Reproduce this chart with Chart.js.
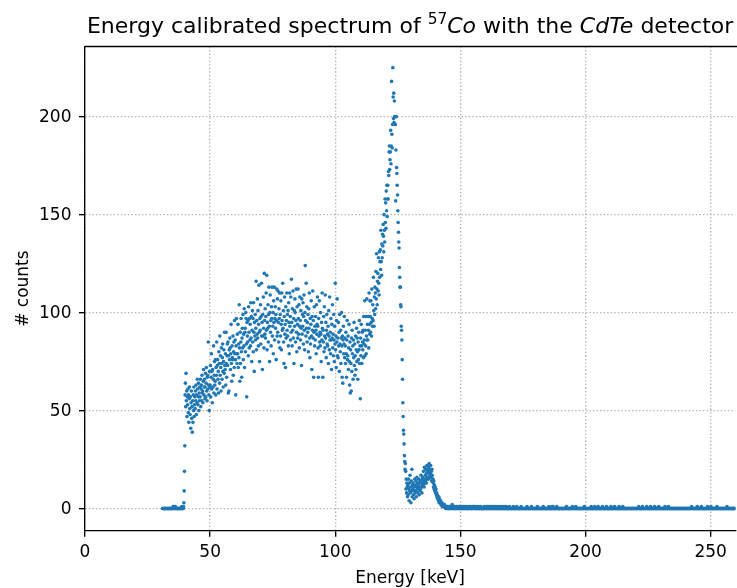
<!DOCTYPE html>
<html>
<head>
<meta charset="utf-8">
<script src="https://cdn.jsdelivr.net/npm/chart.js@4.4.1/dist/chart.umd.min.js"></script>
<style>
html,body{margin:0;padding:0;background:#fff;}
canvas{display:block;}
</style>
</head>
<body>
<canvas id="c" width="737" height="588"></canvas>
<script>
// Energy calibration of the channel axis (keV)
const ENERGY_START_KEV = 31;
const ENERGY_STEP_KEV = 0.125;

// Counts per channel (one row = 1 keV = 8 channels)
const counts = [
// 31 - 39 keV
0,0,0,0,0,0,0,0, 0,0,0,0,0,0,0,0, 0,0,0,0,0,0,0,0, 0,0,0,0,0,0,0,0,
0,0,1,0,1,0,0,0, 0,1,0,0,0,0,0,0, 0,0,0,0,0,0,0,0, 0,0,0,0,0,1,0,0,
0,0,0,1,3,9,19,32,
// 40 - 49 keV
58,64,52,69,55,60,47,57, 53,61,49,58,44,56,62,51, 48,57,41,54,60,46,52,39,
55,44,58,50,62,47,53,57, 51,60,55,63,48,58,54,66, 61,53,57,64,50,59,55,62,
57,66,52,61,63,55,68,59, 60,54,65,71,58,62,66,56, 62,69,57,64,72,60,55,67,
68,61,85,63,58,50,70,62,
// 50 - 59 keV
63,73,57,67,79,61,70,54, 71,62,66,83,59,68,75,63, 65,76,58,72,68,85,61,73,
76,66,70,59,80,74,64,88, 68,78,72,60,82,74,66,77, 84,70,62,75,81,69,90,73,
71,79,63,90,74,67,78,84, 73,85,59,78,60,81,76,87, 82,71,79,94,74,65,83,77,
76,88,68,80,85,72,96,79,
// 60 - 69 keV
86,76,58,83,97,79,74,89, 79,94,72,84,77,104,82,65, 90,74,85,97,80,67,87,92,
82,99,76,89,83,102,72,90, 92,80,100,97,84,57,95,88, 85,96,78,103,90,82,97,86,
94,83,105,87,98,75,91,101, 85,97,80,105,90,70,95,88, 99,86,92,116,81,96,89,107,
87,101,83,94,114,90,75,97,
// 70 - 79 keV
91,104,84,98,115,88,95,71, 99,88,108,92,82,120,96,89, 102,87,98,110,91,119,81,95,
92,104,85,99,113,93,75,100, 109,90,96,83,103,97,113,88, 93,100,79,106,95,113,86,97,
103,92,99,76,96,112,88,107, 90,111,95,85,102,97,110,82, 99,88,106,94,81,110,96,91,
115,92,101,85,74,98,108,89,
// 80 - 89 keV
94,72,103,87,96,110,91,99, 88,101,83,105,95,79,110,93, 98,86,108,90,117,95,83,102,
91,111,87,97,74,101,93,107, 100,85,96,112,90,80,103,94, 87,112,97,89,104,82,93,108,
96,86,101,92,73,107,89,99, 93,105,84,98,109,91,81,100, 124,96,88,115,92,103,85,95,
90,99,80,102,92,110,87,77,
// 90 - 99 keV
97,84,94,106,88,71,98,91, 111,87,96,67,90,103,83,93, 86,98,91,79,104,89,94,108,
93,82,67,97,88,106,85,90, 83,100,89,75,95,86,110,92, 67,91,85,98,80,103,88,82,
109,87,95,77,91,99,84,89, 83,93,74,101,88,81,108,86, 90,79,97,86,71,94,87,104,
82,89,78,99,86,75,93,84,
// 100 - 109 keV
115,81,88,72,96,85,107,78, 87,77,95,83,90,70,99,84, 80,91,74,87,100,83,67,88,
64,86,93,79,84,98,77,87, 83,74,90,79,67,86,96,76, 78,88,71,82,94,75,63,85,
59,81,74,60,87,70,91,79, 83,66,86,77,95,73,84,68, 78,88,71,81,92,75,87,80,
66,85,76,90,81,96,74,83,
// 110 - 119 keV
56,87,78,94,83,74,90,85, 81,91,77,98,84,86,106,78, 91,83,98,79,88,107,86,94,
86,98,91,82,110,94,89,106, 98,90,106,95,88,112,97,93, 104,96,118,101,93,108,99,113,
110,102,121,107,130,112,104,116, 120,111,128,115,109,131,118,126, 132,122,142,126,119,135,128,140,
134,145,139,131,150,142,136,158,
// 120 - 129 keV
146,156,143,162,152,165,149,158, 165,158,172,170,182,185,173,178, 182,193,176,185,218,191,184,196,
225,210,199,212,197,208,200,196, 196,157,183,200,174,171,165,160, 152,146,141,136,133,123,118,113,
113,104,103,93,91,86,76,66, 54,47,40,38,33,27,24,20, 23,19,10,15,8,13,11,6,
12,7,15,10,4,13,9,17,
// 130 - 139 keV
8,11,3,14,9,20,6,12, 10,13,7,11,5,9,15,8, 12,9,14,6,11,16,10,13,
8,12,10,15,7,13,11,9, 14,10,17,11,13,8,15,12, 16,12,19,14,11,21,13,15,
17,14,20,13,18,22,16,19, 19,15,21,18,23,16,20,17, 18,22,16,19,14,20,17,15,
15,13,11,14,10,12,9,11,
// 140 - 149 keV
9,8,10,7,8,6,7,5, 6,5,4,6,3,5,4,3, 3,4,2,3,2,3,1,2,
2,1,2,1,1,2,1,1, 1,0,1,1,0,1,0,1, 0,1,0,0,1,0,0,1,
0,1,0,0,1,0,2,0, 1,0,0,1,0,0,1,0, 0,0,1,0,1,0,0,0,
1,0,0,0,1,0,1,0,
// 150 - 159 keV
0,1,0,0,0,1,0,0, 0,0,1,0,0,0,1,0, 1,0,0,0,1,0,0,0, 0,0,0,1,0,0,1,0,
0,1,0,0,0,0,0,1, 0,0,1,0,0,1,0,0, 1,0,0,0,0,0,1,0, 0,0,0,1,0,0,0,0,
0,1,0,0,0,0,0,0, 0,0,0,0,1,0,0,0,
// 160 - 169 keV
0,0,1,0,0,0,0,1, 0,0,0,0,1,0,0,0, 1,0,0,0,0,0,1,0, 0,0,0,1,0,0,0,0,
0,1,0,0,0,1,0,0, 0,0,0,0,1,0,0,0, 0,0,1,0,0,0,0,0, 1,0,0,0,0,0,1,0,
0,0,0,1,0,0,0,0, 0,0,0,0,0,1,0,0,
// 170 - 179 keV
0,0,0,0,0,0,0,0, 0,1,0,0,0,0,0,0, 0,0,0,0,1,0,0,0, 0,0,0,0,0,0,0,0,
0,0,1,0,0,0,0,0, 0,0,0,0,0,0,0,0, 0,0,0,0,0,1,0,0, 0,0,0,0,0,0,0,0,
0,0,0,1,0,0,0,0, 0,0,0,0,0,0,0,0,
// 180 - 189 keV
0,0,0,0,0,0,1,0, 0,0,0,0,0,0,0,0, 0,0,0,0,0,0,0,0, 0,1,0,0,0,0,0,0,
0,0,0,0,0,0,0,0, 0,0,0,1,0,0,0,0, 0,0,0,0,0,1,0,0, 1,0,0,0,0,0,0,0,
0,0,0,0,1,0,0,0, 0,0,0,0,0,0,0,0,
// 190 - 199 keV
0,0,0,0,0,0,0,0, 0,0,0,0,0,0,0,0, 0,0,0,1,0,0,0,0, 0,0,0,0,0,0,0,0,
0,0,0,0,0,0,1,0, 0,0,0,0,0,0,0,0, 0,1,0,0,0,0,0,0, 0,0,0,0,0,0,0,0,
0,0,0,0,0,0,0,0, 0,0,0,0,1,0,0,0,
// 200 - 209 keV
0,0,0,0,0,0,0,0, 0,0,0,0,0,0,0,0, 0,0,1,0,0,0,0,0, 0,0,0,0,0,1,0,0,
0,0,0,0,0,0,0,0, 1,0,0,0,0,0,0,0, 0,0,0,0,0,0,1,0, 0,0,0,0,0,0,0,0,
0,0,0,1,0,0,0,0, 0,0,0,0,0,0,0,0,
// 210 - 219 keV
0,1,0,0,0,0,0,0, 0,0,0,0,0,1,0,0, 0,0,0,0,0,0,0,0, 0,0,0,1,0,0,0,0,
0,0,0,0,0,0,0,1, 0,0,0,0,0,0,0,0, 0,0,0,0,0,0,0,0, 0,0,0,0,0,0,0,0,
0,0,0,0,0,0,0,0, 0,0,0,0,0,0,0,0,
// 220 - 229 keV
0,0,0,0,0,0,0,0, 0,0,1,0,0,0,0,0, 0,0,0,0,0,0,1,0, 0,0,0,0,0,0,0,0,
0,0,0,0,1,0,0,0, 0,0,0,0,0,0,0,0, 1,0,0,0,0,0,0,0, 0,0,0,0,0,1,0,0,
0,0,0,0,0,0,0,0, 0,0,1,0,0,0,0,0,
// 230 - 239 keV
0,0,0,0,0,0,0,0, 0,0,0,0,0,0,1,0, 0,0,0,0,0,0,0,0, 0,1,0,0,0,0,0,0,
0,0,0,0,0,0,0,0, 0,0,0,0,0,0,0,0, 0,0,0,0,0,0,0,0, 0,0,0,0,0,0,0,0,
0,0,0,0,0,0,0,0, 0,0,0,0,0,0,0,0,
// 240 - 249 keV
0,0,0,0,0,0,0,0, 0,0,0,0,0,0,0,0, 0,0,0,1,0,0,0,0, 0,0,0,0,0,0,0,0,
0,0,0,0,0,1,0,0, 0,0,0,0,0,0,0,0, 0,0,1,0,0,0,0,0, 0,0,0,0,0,0,0,0,
0,0,0,0,0,0,1,0, 0,0,0,0,0,0,0,0,
// 250 - 259 keV
0,1,0,0,0,0,0,0, 0,0,0,0,0,0,0,0, 0,0,0,0,1,0,0,0, 0,0,0,0,0,0,0,0,
0,0,0,0,0,0,0,0, 0,0,0,0,0,0,0,0, 0,0,0,0,1,0,0,0, 0,0,0,0,0,0,0,0,
0,0,0,0,0,0,0,0, 0,0,0,0,0,0,0,0,
// 260 keV
0
];

const xTickValues = [0, 50, 100, 150, 200, 250];
const yTickValues = [0, 50, 100, 150, 200];
const xRange = [0, 259.8];
const yRange = [-11.3, 235.8];

const xLabel = 'Energy [keV]';
const yLabel = '# counts';
const titleParts = [
  { text: 'Energy calibrated spectrum of ', italic: false, sup: false },
  { text: '57', italic: false, sup: true },
  { text: 'Co', italic: true, sup: false },
  { text: ' with the ', italic: false, sup: false },
  { text: 'CdTe', italic: true, sup: false },
  { text: ' detector', italic: false, sup: false }
];

const points = counts.map((c, i) => ({ x: ENERGY_START_KEV + i * ENERGY_STEP_KEV, y: c }));

const FONT = '"DejaVu Sans", "Liberation Sans", sans-serif';
const TICK_SIZE = 17;
const TITLE_SIZE = 22;
const LW = 1.35;

const overlay = {
  id: 'overlay',
  afterDraw(chart) {
    const { ctx, chartArea: a } = chart;
    ctx.save();
    // top spine
    ctx.strokeStyle = '#000';
    ctx.lineWidth = LW;
    ctx.beginPath();
    ctx.moveTo(a.left, a.top);
    ctx.lineTo(a.right + 2, a.top);
    ctx.stroke();

    // title
    ctx.fillStyle = '#000';
    ctx.textBaseline = 'alphabetic';
    ctx.textAlign = 'left';
    const fontFor = p => (p.italic ? 'italic ' : '') + (p.sup ? TITLE_SIZE * 0.7 : TITLE_SIZE) + 'px ' + FONT;
    let total = 0;
    const widths = titleParts.map(p => { ctx.font = fontFor(p); const w = ctx.measureText(p.text).width; total += w; return w; });
    let x = (a.left + a.right) / 2 - total / 2;
    const baseY = 33.3;
    titleParts.forEach((p, i) => {
      ctx.font = fontFor(p);
      ctx.fillText(p.text, x, p.sup ? baseY - 9.5 : baseY);
      x += widths[i];
    });

    // axis labels
    ctx.font = TICK_SIZE + 'px ' + FONT;
    ctx.textAlign = 'center';
    ctx.textBaseline = 'alphabetic';
    ctx.fillText(xLabel, (a.left + a.right) / 2, 582.5);
    ctx.save();
    ctx.translate(27.5, (a.top + a.bottom) / 2);
    ctx.rotate(-Math.PI / 2);
    ctx.fillText(yLabel, 0, 0);
    ctx.restore();
    ctx.restore();
  }
};

const gridCommon = {
  color: '#b0b0b0',
  lineWidth: LW,
  drawTicks: true,
  tickLength: 6,
  tickWidth: LW,
  tickColor: '#000',
  tickBorderDash: []
};
const borderCommon = { display: true, color: '#000', width: LW, dash: [1.35, 2.2] };

new Chart(document.getElementById('c').getContext('2d'), {
  type: 'scatter',
  data: {
    datasets: [{
      data: points,
      backgroundColor: '#1f77b4',
      borderColor: '#1f77b4',
      pointRadius: 1.8,
      pointBorderWidth: 0,
      pointHoverRadius: 1.8
    }]
  },
  options: {
    responsive: false,
    animation: false,
    devicePixelRatio: 1,
    events: [],
    layout: { padding: { top: 46.5, right: 0, bottom: 0, left: 0 } },
    plugins: { legend: { display: false }, tooltip: { enabled: false }, title: { display: false } },
    scales: {
      x: {
        type: 'linear',
        min: xRange[0],
        max: xRange[1],
        afterBuildTicks(s) { s.ticks = xTickValues.map(v => ({ value: v })); },
        afterFit(s) { s.height = 588 - 530.7; },
        ticks: { color: '#000', font: { family: FONT, size: TICK_SIZE }, padding: 6, maxRotation: 0, autoSkip: false },
        grid: gridCommon,
        border: borderCommon
      },
      y: {
        type: 'linear',
        min: yRange[0],
        max: yRange[1],
        afterBuildTicks(s) { s.ticks = yTickValues.map(v => ({ value: v })); },
        afterFit(s) { s.width = 85; },
        ticks: { color: '#000', font: { family: FONT, size: TICK_SIZE }, padding: 7.5, labelOffset: 1, autoSkip: false },
        grid: gridCommon,
        border: borderCommon
      }
    }
  },
  plugins: [overlay]
});
</script>
</body>
</html>
